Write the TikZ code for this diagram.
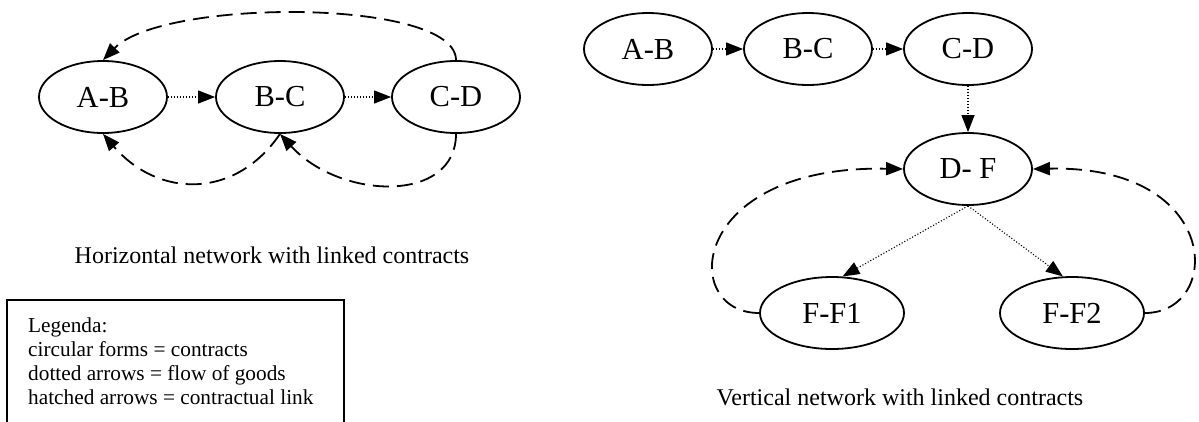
\documentclass[tikz,border=0pt]{standalone}
\usepackage{fontspec}
\setmainfont{Liberation Serif}
\usetikzlibrary{shapes.geometric,arrows.meta}
\begin{document}
\begin{tikzpicture}[x=1pt,y=-1pt,
  contract/.style={ellipse,draw,line width=1.8pt,inner sep=0pt,minimum width=128pt,minimum height=72pt,
    font=\fontsize{30.5}{36}\selectfont},
  widecontract/.style={contract,minimum width=144pt},
  goods/.style={line width=1.1pt,dash pattern=on 1.1pt off 1.9pt,-{Triangle[length=17pt,width=13pt]}},
  link/.style={line width=1.8pt,dash pattern=on 16pt off 8pt,-{Triangle[length=17pt,width=13pt]}},
  caption/.style={anchor=base,inner sep=0pt,font=\fontsize{24}{28}\selectfont},
  legtext/.style={anchor=base west,inner sep=0pt,font=\fontsize{21.3}{24}\selectfont},
  legbox/.style={line width=1.8pt}]
\useasboundingbox (0,0) rectangle (1199,421);
% horizontal network
\node[contract] (hAB) at (103,97) {A-B};
\node[contract] (hBC) at (280,97) {B-C};
\node[contract] (hCD) at (456,97) {C-D};
\draw[goods] (hAB.east) -- (hBC.west);
\draw[goods] (hBC.east) -- (hCD.west);
\draw[link] (hCD.north) .. controls +(0,-62) and +(60,-62) .. (hAB.north);
\draw[link] (hBC.south) .. controls +(-45,66) and +(55,64) .. (hAB.south);
\draw[link] (hCD.south) .. controls +(0,70) and +(60,66) .. (hBC.south);
\node[caption] (hcap) at (272,263) {Horizontal network with linked contracts};
% legend
\coordinate (lbl) at (7,430);
\coordinate (lbr) at (344,430);
\draw[legbox] (lbl) |- (344,300) -- (lbr);
\node[legtext] (l1) at (28,332) {Legenda:};
\node[legtext] (l2) at (28,356) {circular forms = contracts};
\node[legtext] (l3) at (28,380) {dotted arrows = flow of goods};
\node[legtext] (l4) at (28,404) {hatched arrows = contractual link};
% vertical network
\node[contract] (vAB) at (648,49) {A-B};
\node[contract] (vBC) at (808,49) {B-C};
\node[contract] (vCD) at (968,49) {C-D};
\node[contract] (vDF) at (968,169) {D- F};
\node[widecontract] (vF1) at (832,313) {F-F1};
\node[widecontract] (vF2) at (1072,313) {F-F2};
\draw[goods] (vAB.east) -- (vBC.west);
\draw[goods] (vBC.east) -- (vCD.west);
\draw[goods] (vCD.south) -- (vDF.north);
\draw[goods] (vDF.south) -- (vF1.74);
\draw[goods] (vDF.south) -- (vF2.104);
\draw[link] (vF1.west) .. controls +(-80,0) and +(-215,-4) .. (vDF.west);
\draw[link] (vF2.east) .. controls +(78,0) and +(190,-4) .. (vDF.east);
\node[caption] (vcap) at (900,405) {Vertical network with linked contracts};
\end{tikzpicture}
\end{document}
